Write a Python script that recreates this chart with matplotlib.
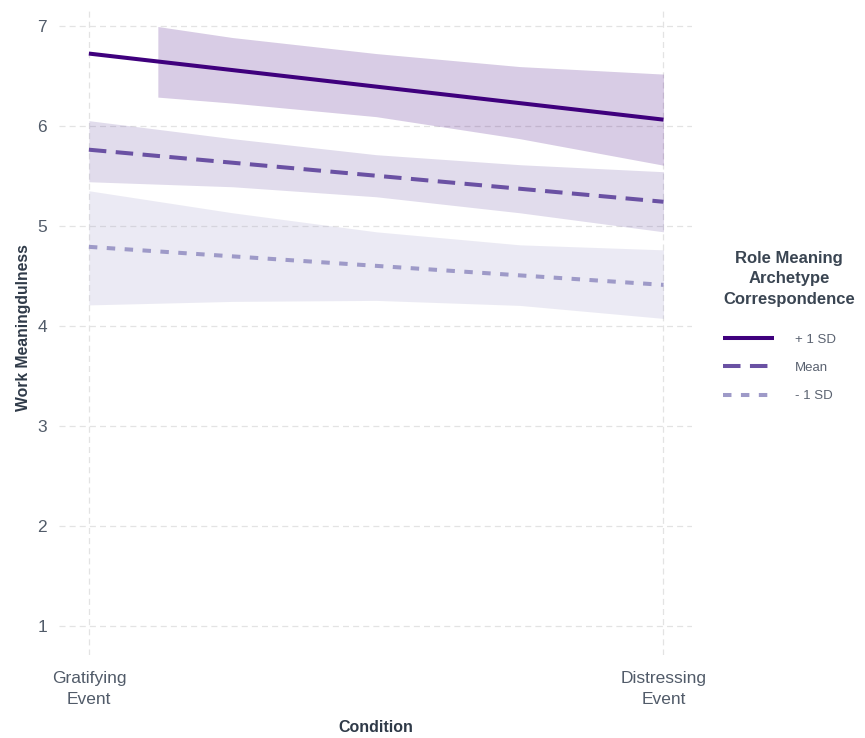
import matplotlib
matplotlib.use("Agg")
import matplotlib.pyplot as plt

plt.rcParams['font.family'] = ['Liberation Sans', 'DejaVu Sans']

# ---------------- data ----------------
cond_labels = ["Gratifying\nEvent", "Distressing\nEvent"]
cond_x = [0, 1]
yticks = [1, 2, 3, 4, 5, 6, 7]

level_names = ["+ 1 SD", "Mean", "- 1 SD"]

# predicted lines (at the two conditions)
plus_sd = [6.72, 6.06]
mean_vals = [5.76, 5.24]
minus_sd = [4.79, 4.41]

# confidence ribbons read along the x range
plus_rib_x = [0.12, 0.25, 0.5, 0.75, 1.0]
plus_lo = [6.285, 6.225, 6.09, 5.87, 5.605]
plus_hi = [6.99, 6.88, 6.72, 6.59, 6.515]

rib_x = [0.0, 0.25, 0.5, 0.75, 1.0]
mean_lo = [5.44, 5.39, 5.29, 5.13, 4.94]
mean_hi = [6.05, 5.87, 5.71, 5.61, 5.54]

minus_lo = [4.21, 4.245, 4.255, 4.205, 4.075]
minus_hi = [5.35, 5.13, 4.94, 4.81, 4.76]

colors = ["#3F007D", "#6A51A3", "#9E9AC8"]

# ---------------- figure ----------------
W, H = 865, 738
fig = plt.figure(figsize=(W / 100, H / 100), dpi=100)
ax = fig.add_axes([59 / W, 1 - 655 / H, (692 - 59) / W, (655 - 7) / H])

lw = 2.9
styles = ["-", (0, (12.6 / lw, 6.8 / lw)), (0, (6.1 / lw, 6.8 / lw))]

ribbons = [(plus_rib_x, plus_lo, plus_hi), (rib_x, mean_lo, mean_hi), (rib_x, minus_lo, minus_hi)]
for (rx, lo, hi), c in zip(ribbons, colors):
    ax.fill_between(rx, lo, hi, color=c, alpha=0.2, linewidth=0)

handles = []
for vals, c, ls, name in zip([plus_sd, mean_vals, minus_sd], colors, styles, level_names):
    h, = ax.plot(cond_x, vals, color=c, lw=lw, linestyle=ls,
                 solid_capstyle='butt', dash_capstyle='butt', label=name)
    handles.append(h)

ax.set_xlim(-0.052, 1.0496)
ax.set_ylim(0.714, 7.185)
ax.set_xticks(cond_x)
ax.set_xticklabels(cond_labels, linespacing=1.5)
ax.set_yticks(yticks)
ax.set_yticklabels([str(v) for v in yticks])

ax.grid(True, color="#E3E3E3", lw=0.9, linestyle=(0, (4.8, 3.3)))
ax.set_axisbelow(True)
for s in ax.spines.values():
    s.set_visible(False)

tick_col = "#515B69"
ax.tick_params(axis='both', length=0, labelsize=12.5, colors=tick_col)
ax.tick_params(axis='y', pad=8.6)
ax.tick_params(axis='x', pad=11.5)

title_col = "#2F3A48"
ax.set_xlabel("Condition", fontsize=11.5, fontweight='bold', color=title_col)
ax.xaxis.set_label_coords(0.5, -0.101)
ax.set_ylabel("Work Meaningdulness", fontsize=11.3, fontweight='bold', color=title_col)
ax.yaxis.set_label_coords(-0.044, 0.505)

leg = ax.legend(handles=handles, title="Role Meaning\nArchetype\nCorrespondence",
                loc='upper left', bbox_to_anchor=(723 / W, 1 - 251 / H),
                bbox_transform=fig.transFigure, frameon=False,
                fontsize=9.5, title_fontproperties={'weight': 'bold', 'size': 12},
                handlelength=3.9, handletextpad=1.55, labelspacing=1.22,
                borderpad=0, borderaxespad=0, alignment='left')
leg.get_title().set_multialignment('center')
leg.get_title().set_linespacing(1.45)
leg.get_title().set_color("#3A4552")
leg._legend_box.sep = 9.5 * 1.22 + 7.5
for t in leg.get_texts():
    t.set_color("#5A6270")

fig.savefig("out.png", dpi=100, facecolor="white")
